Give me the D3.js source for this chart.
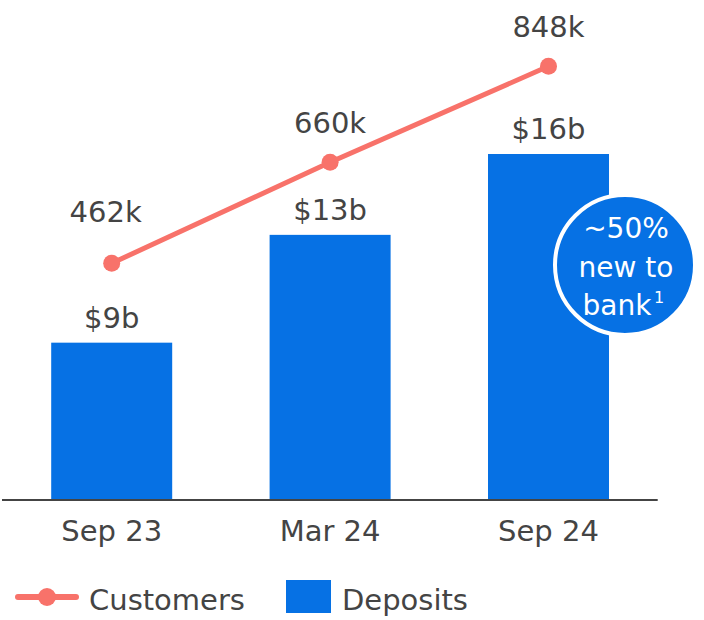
<!DOCTYPE html>
<html>
<head>
<meta charset="utf-8">
<script src="https://cdn.jsdelivr.net/npm/d3@7"></script>
<style>
  body { margin: 0; background: #fff; }
  svg text { font-family: "DejaVu Sans", sans-serif; fill: #444; }
</style>
</head>
<body>
<div id="chart"></div>
<script>
// data
const periods = ["Sep 23", "Mar 24", "Sep 24"];
const deposits = [9, 13, 16];            // $b
const customers = [462, 660, 848];       // k
const depositLabels = ["$9b", "$13b", "$16b"];
const customerLabels = ["462k", "660k", "848k"];
const badgeLines = ["~50%", "new to", "bank"];

const width = 704, height = 620;
const baseY = 499;
const blue = "#0671e4", coral = "#f8726a";

const svg = d3.select("#chart").append("svg")
    .attr("width", width)
    .attr("height", height);

const x = d3.scaleBand()
    .domain(periods)
    .range([2.5, 657.7])
    .paddingInner(0.446)
    .paddingOuter(0.223);

// bars don't start at zero in the original
const yBar = d3.scaleLinear().domain([3.2, 16]).range([baseY, 154]);
const yLine = d3.scaleLinear().domain([0, 978]).range([baseY, 0]);

// bars
svg.append("g")
    .selectAll("rect")
    .data(deposits)
    .join("rect")
    .attr("x", (d, i) => x(periods[i]))
    .attr("y", d => yBar(d))
    .attr("width", x.bandwidth())
    .attr("height", d => baseY - yBar(d))
    .attr("fill", blue);

// bar labels
svg.append("g")
    .selectAll("text")
    .data(deposits)
    .join("text")
    .attr("x", (d, i) => x(periods[i]) + x.bandwidth() / 2)
    .attr("y", d => yBar(d) - 15)
    .attr("text-anchor", "middle")
    .attr("font-size", 29)
    .text((d, i) => depositLabels[i]);

// baseline
svg.append("line")
    .attr("x1", x.range()[0] - 0.5).attr("x2", x.range()[1])
    .attr("y1", baseY + 1).attr("y2", baseY + 1)
    .attr("stroke", "#444")
    .attr("stroke-width", 2);

// x axis labels
const xAxis = svg.append("g")
    .attr("transform", `translate(0,${baseY})`)
    .call(d3.axisBottom(x).tickSize(0).tickPadding(0));
xAxis.select(".domain").remove();
xAxis.selectAll("text")
    .attr("font-size", 29)
    .attr("font-family", "DejaVu Sans")
    .attr("fill", "#444")
    .attr("dy", 42);

// customers line
const cx = (d, i) => x(periods[i]) + x.bandwidth() / 2;
const line = d3.line()
    .x((d, i) => cx(d, i))
    .y(d => yLine(d));

svg.append("path")
    .datum(customers)
    .attr("d", line)
    .attr("fill", "none")
    .attr("stroke", coral)
    .attr("stroke-width", 5);

svg.append("g")
    .selectAll("circle")
    .data(customers)
    .join("circle")
    .attr("cx", cx)
    .attr("cy", d => yLine(d))
    .attr("r", 8.5)
    .attr("fill", coral);

// first label sits a bit higher and to the left
svg.append("g")
    .selectAll("text")
    .data(customers)
    .join("text")
    .attr("x", (d, i) => cx(d, i) - (i === 0 ? 6 : 0))
    .attr("y", (d, i) => yLine(d) - (i === 0 ? 41 : 29))
    .attr("text-anchor", "middle")
    .attr("font-size", 29)
    .text((d, i) => customerLabels[i]);

// badge
const badge = svg.append("g").attr("transform", "translate(625,265)");
badge.append("circle")
    .attr("r", 70)
    .attr("fill", blue)
    .attr("stroke", "#fff")
    .attr("stroke-width", 4);

badge.selectAll("text.line")
    .data(badgeLines)
    .join("text")
    .attr("class", "line")
    .attr("x", (d, i) => i === 2 ? -8 : 1)
    .attr("y", (d, i) => -27 + i * 38.5)
    .attr("text-anchor", "middle")
    .attr("font-size", 28)
    .style("fill", "#fff")
    .text(d => d);

badge.append("text")
    .attr("x", 29)
    .attr("y", 38)
    .attr("font-size", 16)
    .style("fill", "#fff")
    .text("1");

// legend
const legend = svg.append("g");
legend.append("line")
    .attr("x1", 18).attr("x2", 76)
    .attr("y1", 597).attr("y2", 597)
    .attr("stroke", coral)
    .attr("stroke-width", 6)
    .attr("stroke-linecap", "round");
legend.append("circle")
    .attr("cx", 47).attr("cy", 597)
    .attr("r", 9)
    .attr("fill", coral);
legend.append("text")
    .attr("x", 89).attr("y", 610)
    .attr("font-size", 29)
    .text("Customers");

legend.append("rect")
    .attr("x", 286).attr("y", 580)
    .attr("width", 45).attr("height", 33)
    .attr("fill", blue);
legend.append("text")
    .attr("x", 342).attr("y", 610)
    .attr("font-size", 29)
    .text("Deposits");
</script>
</body>
</html>
